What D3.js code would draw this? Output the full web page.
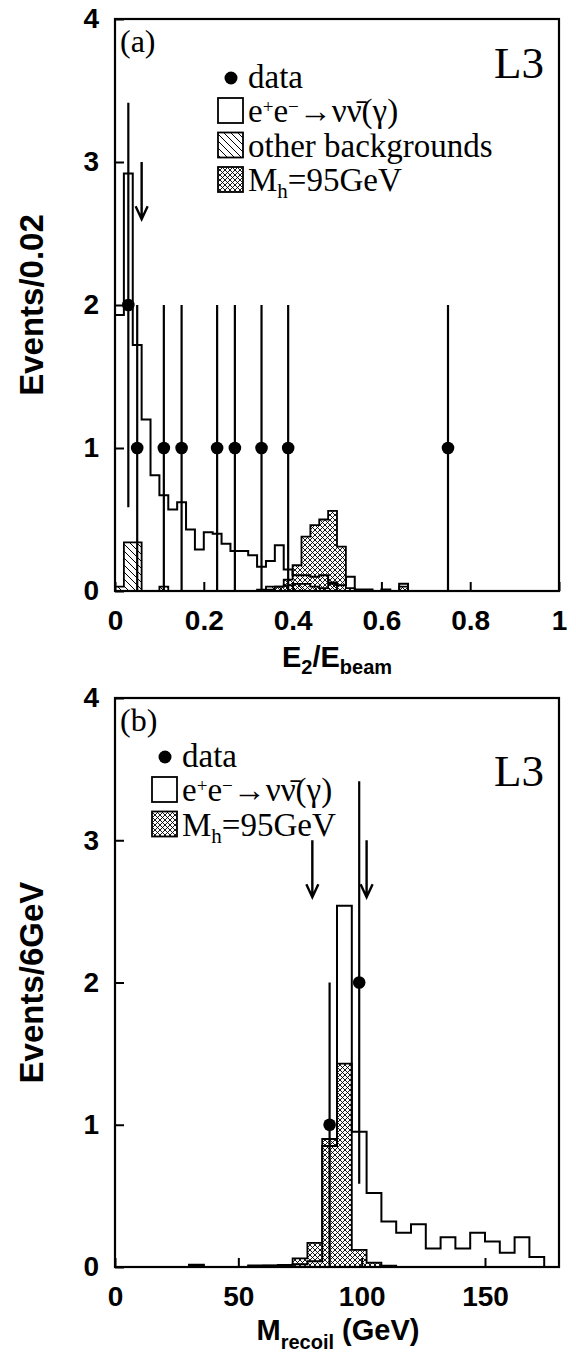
<!DOCTYPE html>
<html><head><meta charset="utf-8">
<script src="https://cdn.jsdelivr.net/npm/d3@7"></script>
<style>body{margin:0;background:#fff}</style>
</head><body>
<script>
// ---------- panel (a): E2/Ebeam, bins of 0.02 ----------
const binWidthA = 0.02;
const nunuA = [1.93,2.92,1.72,1.20,0.81,0.67,0.57,0.62,0.43,0.29,
               0.41,0.40,0.33,0.28,0.28,0.25,0.17,0.21,0.32,0.15,
               0.11,0.11,0.10,0.11,0.06,0.04,0.10,0.01,0.01,0,
               0.01,0,0.05,0,0,0,0,0,0,0,
               0,0,0,0,0,0,0,0,0,0];
const otherA = [0.03,0.34,0.34,0,0,0.03,0,0,0,0,
                0,0,0,0,0,0,0.01,0.03,0.03,0.04,
                0.05,0.05,0.03,0.02,0.05,0,0,0,0,0,
                0,0,0,0,0,0,0,0,0,0,
                0,0,0,0,0,0,0,0,0,0];
const higgsA = [0,0,0,0,0,0,0,0,0,0,
                0,0,0,0,0,0,0,0.01,0.03,0.08,
                0.18,0.38,0.46,0.50,0.56,0.31,0.02,0,0,0,
                0,0,0.03,0,0,0,0,0,0,0,
                0,0,0,0,0,0,0,0,0,0];
const dataXA = [0.03,0.05,0.11,0.15,0.23,0.27,0.33,0.39,0.75];
const dataNA = [2,1,1,1,1,1,1,1,1];
const arrowsA = [0.06];
const xTicksA = [0,0.2,0.4,0.6,0.8,1];
const xLabelsA = ["0","0.2","0.4","0.6","0.8","1"];

// ---------- panel (b): recoil mass, bins of 6 GeV ----------
const binWidthB = 6;
const nunuB = [0,0,0,0,0,0.015,0,0,0,0.01,
               0.01,0.01,0.02,0.04,0.85,2.54,0.95,0.52,0.32,0.24,
               0.30,0.13,0.21,0.13,0.24,0.18,0.10,0.21,0.07,0];
const higgsB = [0,0,0,0,0,0.01,0,0,0,0.005,
                0.01,0.015,0.06,0.17,0.90,1.43,0.12,0.03,0.01,0,
                0,0,0,0,0,0,0,0,0,0];
const dataXB = [87,99];
const dataNB = [1,2];
const arrowsB = [80,102];
const xTicksB = [0,50,100,150];
const xLabelsB = ["0","50","100","150"];

const yTicks = [0,1,2,3,4];
const yLabels = ["0","1","2","3","4"];

const svg = d3.select("body").append("svg")
  .attr("width",576).attr("height",1352)
  .style("display","block");

const defs = svg.append("defs");
// cross-hatch fill for the Higgs signal
const ch = defs.append("pattern").attr("id","cross")
  .attr("patternUnits","userSpaceOnUse").attr("width",5).attr("height",5);
ch.append("path").attr("d","M0,0L5,5M5,0L0,5M-1,4L1,6M4,-1L6,1M-1,1L1,-1M4,6L6,4")
  .attr("stroke","#000").attr("stroke-width",0.9);
// single diagonal hatch for other backgrounds
const dh = defs.append("pattern").attr("id","diag")
  .attr("patternUnits","userSpaceOnUse").attr("width",7).attr("height",7);
dh.append("path").attr("d","M0,0L7,7M-1,6L1,8M6,-1L8,1")
  .attr("stroke","#000").attr("stroke-width",1);

const SANS = "'Liberation Sans', Arial, Helvetica, sans-serif";
const SERIF = "'Liberation Serif', 'Times New Roman', serif";

function stepPoints(vals, w){
  const pts = [[0,0]];
  vals.forEach((v,i)=>{ pts.push([i*w, v]); pts.push([(i+1)*w, v]); });
  pts.push([vals.length*w, 0]);
  return pts;
}

function drawPanel(cfg){
  const g = svg.append("g");
  const x = d3.scaleLinear().domain(cfg.xDomain).range([115,559]);
  const y = d3.scaleLinear().domain([0,4]).range([cfg.bottom, cfg.top]);
  const line = d3.line().x(d=>x(d[0])).y(d=>y(d[1]));

  // neutrino background, white
  g.append("path").attr("d", line(stepPoints(cfg.nunu, cfg.bw)))
    .attr("fill","#fff").attr("stroke","none");
  // Higgs signal, cross-hatched
  g.append("path").attr("d", line(stepPoints(cfg.higgs, cfg.bw)))
    .attr("fill","url(#cross)").attr("stroke","#000").attr("stroke-width",1.8);
  // other backgrounds, single hatch
  if (cfg.other){
    g.append("path").attr("d", line(stepPoints(cfg.other, cfg.bw)))
      .attr("fill","url(#diag)").attr("stroke","#000").attr("stroke-width",1.8);
  }
  // neutrino background outline
  g.append("path").attr("d", line(stepPoints(cfg.nunu, cfg.bw)))
    .attr("fill","none").attr("stroke","#000").attr("stroke-width",2);

  // data with sqrt(N) error bars
  cfg.dataX.forEach((dx,i)=>{
    const n = cfg.dataN[i], e = Math.sqrt(n);
    g.append("line").attr("x1",x(dx)).attr("x2",x(dx))
      .attr("y1",y(Math.max(0,n-e))).attr("y2",y(n+e))
      .attr("stroke","#000").attr("stroke-width",2.2);
    g.append("circle").attr("cx",x(dx)).attr("cy",y(n)).attr("r",6.3).attr("fill","#000");
  });

  // cut arrows
  cfg.arrows.forEach(ax=>{
    const x0 = x(ax), yt = y(3.0), yb = y(2.6);
    g.append("path").attr("d",`M${x0},${yt}L${x0},${yb}M${x0-6},${yb-13}L${x0},${yb}L${x0+6},${yb-13}`)
      .attr("fill","none").attr("stroke","#000").attr("stroke-width",2.4);
  });

  // axes with inward ticks
  const xa = g.append("g").attr("transform",`translate(0,${cfg.bottom})`)
    .call(d3.axisBottom(x).tickValues(cfg.xTicks).tickSize(-9).tickPadding(19)
      .tickFormat((d,i)=>cfg.xLabels[i]));
  const ya = g.append("g").attr("transform",`translate(115,0)`)
    .call(d3.axisLeft(y).tickValues(yTicks).tickSize(-9).tickPadding(16)
      .tickFormat((d,i)=>yLabels[i]));
  [xa,ya].forEach(a=>{
    a.select(".domain").remove();
    a.selectAll("line").attr("stroke","#000").attr("stroke-width",2);
    a.selectAll("text").attr("fill","#000").style("font-family",SANS)
      .style("font-weight","bold").style("font-size","28px");
  });

  // frame
  g.append("rect").attr("x",115).attr("y",cfg.top).attr("width",444)
    .attr("height",cfg.bottom-cfg.top).attr("fill","none")
    .attr("stroke","#000").attr("stroke-width",2.2);

  // y title
  g.append("text").attr("transform",`translate(43,${(cfg.top+cfg.bottom)/2}) rotate(-90)`)
    .attr("text-anchor","middle").style("font-family",SANS).style("font-weight","bold")
    .style("font-size","33px").text(cfg.yTitle);

  // panel tag and experiment label
  g.append("text").attr("x",120).attr("y",cfg.top+33).style("font-family",SERIF)
    .style("font-size","32px").text(cfg.tag);
  g.append("text").attr("x",544).attr("y",cfg.top+cfg.l3dy).attr("text-anchor","end")
    .style("font-family",SERIF).style("font-size","45px").text("L3");

  // legend
  const lx = cfg.legX, ly = cfg.legY;
  g.append("circle").attr("cx",lx+13).attr("cy",ly).attr("r",6.5).attr("fill","#000");
  const legText = (yy)=> g.append("text").attr("x",lx+30).attr("y",yy)
    .style("font-family",SERIF).style("font-size","33px");
  legText(ly+10).text("data");
  const items = cfg.legItems;
  items.forEach((it,i)=>{
    const by = ly + 20 + i*34.5;
    g.append("rect").attr("x",lx).attr("y",by).attr("width",25).attr("height",25)
      .attr("fill", it.fill).attr("stroke","#000").attr("stroke-width",1.8);
    const t = legText(by+24);
    it.parts.forEach(p=>{
      const s = t.append("tspan").text(p.t);
      if (p.sup){ s.attr("dy",-9).style("font-size","19px"); }
      if (p.sub){ s.attr("dy",7).style("font-size","21px"); }
      if (p.back){ s.attr("dy",p.back); }
    });
  });
  return {x,y,g};
}

const nunuParts = [{t:"e"},{t:"+",sup:true},{t:"e",back:9},{t:"\u2212",sup:true},
  {t:"\u2192\u03bd\u03bd\u0304(\u03b3)",back:9}];
const higgsParts = [{t:"M"},{t:"h",sub:true},{t:"=95GeV",back:-7}];

const pA = drawPanel({
  xDomain:[0,1], top:19, bottom:591, bw:binWidthA,
  nunu:nunuA, higgs:higgsA, other:otherA,
  dataX:dataXA, dataN:dataNA, arrows:arrowsA,
  xTicks:xTicksA, xLabels:xLabelsA, yTitle:"Events/0.02", tag:"(a)", l3dy:59,
  legX:218, legY:78,
  legItems:[{fill:"#fff",parts:nunuParts},
            {fill:"url(#diag)",parts:[{t:"other backgrounds"}]},
            {fill:"url(#cross)",parts:higgsParts}]
});
const pB = drawPanel({
  xDomain:[0,180], top:698, bottom:1267, bw:binWidthB,
  nunu:nunuB, higgs:higgsB, other:null,
  dataX:dataXB, dataN:dataNB, arrows:arrowsB,
  xTicks:xTicksB, xLabels:xLabelsB, yTitle:"Events/6GeV", tag:"(b)", l3dy:88,
  legX:152, legY:757,
  legItems:[{fill:"#fff",parts:nunuParts},
            {fill:"url(#cross)",parts:higgsParts}]
});

// x titles
const tA = svg.append("text").attr("x",337).attr("y",667).attr("text-anchor","middle")
  .style("font-family",SANS).style("font-weight","bold").style("font-size","29px");
tA.append("tspan").text("E");
tA.append("tspan").attr("dy",7).style("font-size","20px").text("2");
tA.append("tspan").attr("dy",-7).text("/E");
tA.append("tspan").attr("dy",7).style("font-size","20px").text("beam");

const tB = svg.append("text").attr("x",338).attr("y",1340).attr("text-anchor","middle")
  .style("font-family",SANS).style("font-weight","bold").style("font-size","29px");
tB.append("tspan").text("M");
tB.append("tspan").attr("dy",9).style("font-size","20px").text("recoil");
tB.append("tspan").attr("dy",-9).text(" (GeV)");
</script>
</body></html>
